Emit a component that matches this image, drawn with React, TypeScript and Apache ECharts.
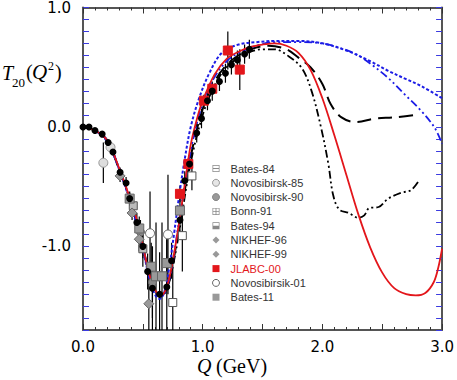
import React, { useEffect, useRef } from "react";
import * as echarts from "echarts";

// ---------- axis ticks ----------
const X_LABELS = [0, 1, 2, 3];
const Y_LABELS = [-1, 0, 1];

// ---------- theory curves [Q, T20] ----------
const CURVE_RED: [number, number][] = [
  [0, 0], [0.1, -0.03], [0.2, -0.11], [0.3, -0.34], [0.4, -0.62], [0.45, -0.78], [0.5, -0.99],
  [0.55, -1.22], [0.6, -1.36], [0.65, -1.41], [0.7, -1.34], [0.75, -1.12], [0.8, -0.82],
  [0.85, -0.48], [0.9, -0.15], [0.95, 0.06], [1.0, 0.22], [1.1, 0.44], [1.2, 0.57], [1.3, 0.63],
  [1.4, 0.67], [1.5, 0.69], [1.6, 0.7], [1.7, 0.68], [1.8, 0.62], [1.9, 0.48], [2.0, 0.24],
  [2.1, -0.07], [2.2, -0.4], [2.3, -0.73], [2.4, -1.01], [2.5, -1.22], [2.6, -1.35],
  [2.7, -1.4], [2.78, -1.41], [2.86, -1.39], [2.93, -1.3], [2.97, -1.17], [3.0, -1.02],
];
const CURVE_BLUE_DOT: [number, number][] = [
  [0, 0], [0.1, -0.03], [0.2, -0.12], [0.3, -0.35], [0.4, -0.65], [0.5, -1.02], [0.55, -1.25],
  [0.6, -1.4], [0.64, -1.44], [0.68, -1.38], [0.72, -1.18], [0.76, -0.9], [0.8, -0.6],
  [0.85, -0.27], [0.9, 0.0], [0.97, 0.24], [1.06, 0.46], [1.16, 0.62], [1.3, 0.69], [1.45, 0.71],
  [1.6, 0.72], [1.8, 0.72], [2.0, 0.7], [2.2, 0.64], [2.4, 0.55], [2.55, 0.47], [2.7, 0.4],
  [2.83, 0.34], [3.0, 0.24],
];
const CURVE_BLUE_DASHDOT: [number, number][] = [
  [0, 0], [0.1, -0.03], [0.2, -0.11], [0.3, -0.34], [0.4, -0.63], [0.5, -1.0], [0.55, -1.23],
  [0.6, -1.37], [0.65, -1.42], [0.7, -1.35], [0.75, -1.13], [0.8, -0.8], [0.9, -0.2],
  [1.0, 0.2], [1.1, 0.42], [1.2, 0.55], [1.3, 0.62], [1.45, 0.68], [1.6, 0.71], [1.8, 0.71],
  [2.0, 0.7], [2.15, 0.66], [2.28, 0.61], [2.4, 0.53], [2.55, 0.41], [2.69, 0.27],
  [2.83, 0.13], [2.94, -0.01], [3.0, -0.14],
];
const CURVE_BLACK_DASH: [number, number][] = [
  [0, 0], [0.1, -0.03], [0.2, -0.11], [0.3, -0.35], [0.4, -0.63], [0.5, -1.0], [0.55, -1.22],
  [0.6, -1.36], [0.65, -1.41], [0.7, -1.35], [0.75, -1.15], [0.8, -0.85], [0.9, -0.25],
  [1.0, 0.15], [1.1, 0.38], [1.2, 0.52], [1.3, 0.6], [1.4, 0.65], [1.55, 0.68], [1.7, 0.65],
  [1.8, 0.58], [1.9, 0.5], [2.0, 0.36], [2.07, 0.19], [2.16, 0.08], [2.28, 0.04], [2.44, 0.07],
  [2.6, 0.08], [2.78, 0.1],
];
const CURVE_BLACK_DASHDOT: [number, number][] = [
  [0, 0], [0.1, -0.03], [0.2, -0.11], [0.3, -0.35], [0.4, -0.64], [0.5, -1.01], [0.55, -1.23],
  [0.6, -1.37], [0.65, -1.42], [0.7, -1.36], [0.75, -1.17], [0.8, -0.9], [0.9, -0.3],
  [1.0, 0.1], [1.1, 0.35], [1.2, 0.5], [1.3, 0.58], [1.4, 0.63], [1.5, 0.65], [1.6, 0.65],
  [1.72, 0.59], [1.83, 0.49], [1.91, 0.3], [1.99, -0.01], [2.05, -0.31], [2.09, -0.57],
  [2.14, -0.69], [2.22, -0.72], [2.3, -0.76], [2.35, -0.74], [2.39, -0.68], [2.47, -0.67],
  [2.55, -0.6], [2.66, -0.55], [2.74, -0.53], [2.8, -0.46],
];

// ---------- data sets: Q, T20, error ----------
const FIT_Q = [0, 0.05, 0.1, 0.16, 0.21, 0.25, 0.31, 0.36, 0.39, 0.45, 0.5, 0.54, 0.58, 0.64, 0.7, 0.74, 0.81, 0.85, 0.89, 0.95, 0.99, 1.04, 1.08, 1.14, 1.19, 1.24, 1.29, 1.35, 1.39];
const FIT_T = [0, 0.0, -0.03, -0.06, -0.13, -0.21, -0.38, -0.47, -0.6, -0.8, -1.0, -1.21, -1.35, -1.4, -1.34, -1.12, -0.78, -0.45, -0.31, -0.05, 0.07, 0.22, 0.3, 0.38, 0.45, 0.52, 0.56, 0.61, 0.65];
const FIT_E = [0.01, 0.01, 0.01, 0.02, 0.02, 0.03, 0.04, 0.05, 0.06, 0.08, 0.1, 0.15, 0.35, 0.35, 0.4, 0.15, 0.1, 0.08, 0.06, 0.08, 0.08, 0.08, 0.08, 0.08, 0.08, 0.08, 0.08, 0.08, 0.08];

const B84_Q = [0.75, 0.83];
const B84_T = [-1.47, -0.91];
const B84_E = [0.35, 0.3];

const N85_Q = [0.17, 0.23];
const N85_T = [-0.3, -0.17];
const N85_E = [0.17, 0.04];

const N90_Q = [0.48, 0.58];
const N90_T = [-0.88, -1.3];
const N90_E = [0.1, 0.3];

const BONN_Q = [0.42, 0.5];
const BONN_T = [-0.66, -1.02];
const BONN_E = [0.08, 0.15];

const B94_Q = [0.91];
const B94_T = [-0.41];
const B94_E = [0.12];

const N96_Q = [0.31, 0.41];
const N96_T = [-0.41, -0.72];
const N96_E = [0.05, 0.06];

const N99_Q = [0.47, 0.55];
const N99_T = [-0.94, -1.48];
const N99_E = [0.1, 0.3];

const JLAB_Q = [0.81, 0.88, 1.01, 1.08, 1.21, 1.31];
const JLAB_T = [-0.56, -0.31, 0.22, 0.32, 0.64, 0.48];
const JLAB_E = [0.07, 0.05, 0.05, 0.05, 0.16, 0.17];

const N01_Q = [0.56, 0.71];
const N01_T = [-0.89, -0.9];
const N01_E = [0.35, 0.5];

const B11_Q = [0.39, 0.47, 0.57, 0.61, 0.66, 0.7, 0.81];
const B11_T = [-0.6, -0.85, -1.17, -1.25, -1.25, -1.14, -0.7];
const B11_E = [0.05, 0.1, 0.2, 0.45, 0.45, 0.2, 0.1];

const X_MIN = 0, X_MAX = 3, Y_MIN = -1.7, Y_MAX = 1.0;

const pts = (q: number[], t: number[]) => q.map((v, i) => [v, t[i]]);

export default function App() {
  const ref = useRef<HTMLDivElement>(null);
  useEffect(() => {
    document.body.style.margin = "0";
    const chart = echarts.init(ref.current!, undefined, { renderer: "svg" });

    const sets = [
      { name: "Bates-84", q: B84_Q, t: B84_T, e: B84_E, symbol: "rect", size: 8, color: "#fff", border: "#555" },
      { name: "Novosibirsk-85", q: N85_Q, t: N85_T, e: N85_E, symbol: "circle", size: 9, color: "#ddd", border: "#999" },
      { name: "Novosibirsk-90", q: N90_Q, t: N90_T, e: N90_E, symbol: "circle", size: 8, color: "#888", border: "#666" },
      { name: "Bonn-91", q: BONN_Q, t: BONN_T, e: BONN_E, symbol: "rect", size: 8, color: "#bbb", border: "#555" },
      { name: "Bates-94", q: B94_Q, t: B94_T, e: B94_E, symbol: "rect", size: 8, color: "#fff", border: "#555" },
      { name: "NIKHEF-96", q: N96_Q, t: N96_T, e: N96_E, symbol: "diamond", size: 10, color: "#999", border: "#666" },
      { name: "NIKHEF-99", q: N99_Q, t: N99_T, e: N99_E, symbol: "diamond", size: 10, color: "#999", border: "#666" },
      { name: "JLABC-00", q: JLAB_Q, t: JLAB_T, e: JLAB_E, symbol: "rect", size: 9, color: "#e3161b", border: "#e3161b" },
      { name: "Novosibirsik-01", q: N01_Q, t: N01_T, e: N01_E, symbol: "circle", size: 9, color: "#fff", border: "#666" },
      { name: "Bates-11", q: B11_Q, t: B11_T, e: B11_E, symbol: "rect", size: 9, color: "#999", border: "#666" },
    ];

    const clampY = (v: number) => Math.max(Y_MIN, Math.min(Y_MAX, v));
    const errData: number[][] = [];
    const addErr = (q: number[], t: number[], e: number[]) =>
      q.forEach((v, i) => errData.push([v, clampY(t[i] - e[i]), clampY(t[i] + e[i])]));
    addErr(FIT_Q, FIT_T, FIT_E);
    sets.forEach((s) => addErr(s.q, s.t, s.e));

    const curve = (data: [number, number][], color: string, type: any, width: number) => ({
      type: "line",
      data,
      showSymbol: false,
      smooth: 0.35,
      z: 2,
      silent: true,
      lineStyle: { color, width, type },
    });

    const iconOutline = "M0,0H10V10H0Z M1,1V9H9V1Z";
    const legendData = [
      { name: "Bates-84", icon: "path://" + iconOutline + " M1,4.2H9V5.8H1Z", itemStyle: { color: "#888", borderWidth: 0 } },
      { name: "Novosibirsk-85", icon: "circle", itemStyle: { color: "#e6e6e6", borderColor: "#999", borderWidth: 1 } },
      { name: "Novosibirsk-90", icon: "circle", itemStyle: { color: "#999", borderColor: "#888", borderWidth: 1 } },
      { name: "Bonn-91", icon: "path://" + iconOutline + " M1,4.4H9V5.6H1Z M4.4,1H5.6V9H4.4Z", itemStyle: { color: "#888", borderWidth: 0 } },
      { name: "Bates-94", icon: "path://" + iconOutline + " M1,5H9V9H1Z", itemStyle: { color: "#888", borderWidth: 0 } },
      { name: "NIKHEF-96", icon: "diamond", itemStyle: { color: "#999", borderWidth: 0 } },
      { name: "NIKHEF-99", icon: "diamond", itemStyle: { color: "#999", borderWidth: 0 } },
      { name: "JLABC-00", icon: "rect", itemStyle: { color: "#e3161b", borderWidth: 0 }, textStyle: { color: "#e3161b" } },
      { name: "Novosibirsik-01", icon: "circle", itemStyle: { color: "#fff", borderColor: "#666", borderWidth: 1 } },
      { name: "Bates-11", icon: "rect", itemStyle: { color: "#999", borderWidth: 0 } },
    ];

    const serif = "Liberation Serif";
    const tickFont = "DejaVu Sans";

    const xAxisBase = {
      type: "value", min: X_MIN, max: X_MAX, interval: 0.5,
      axisLine: { onZero: false, lineStyle: { color: "#555", width: 2 } },
      axisTick: { inside: true, length: 6, lineStyle: { color: "#333", width: 1 } },
      minorTick: { show: true, splitNumber: 5, length: 3, lineStyle: { color: "#333", width: 1 } },
      splitLine: { show: false },
    };
    const yAxisBase = {
      type: "value", min: Y_MIN, max: Y_MAX, interval: 0.1,
      axisLine: { onZero: false, lineStyle: { color: "#555", width: 2 } },
      axisTick: { inside: true, length: 6, lineStyle: { color: "#3b3be0", width: 1 } },
      splitLine: { show: false },
    };

    chart.setOption({
      animation: false,
      grid: { left: 83, right: 13, top: 5, bottom: 50 },
      legend: {
        data: legendData,
        orient: "vertical",
        left: 207,
        top: 158,
        itemWidth: 7,
        itemHeight: 7,
        itemGap: 3.3,
        formatter: (n: string) => "  " + n,
        textStyle: { fontFamily: "Liberation Sans", fontSize: 11, color: "#333" },
        selectedMode: false,
      },
      xAxis: [
        {
          ...xAxisBase,
          axisLabel: {
            margin: 9, fontFamily: tickFont, fontSize: 15, color: "#000",
            formatter: (v: number) => (X_LABELS.some((l) => Math.abs(l - v) < 1e-6) ? Math.round(v).toFixed(1) : ""),
          },
        },
        { ...xAxisBase, position: "top", axisLabel: { show: false } },
      ],
      yAxis: [
        {
          ...yAxisBase,
          axisLabel: {
            margin: 12, fontFamily: tickFont, fontSize: 15, color: "#000",
            formatter: (v: number) => (Y_LABELS.some((l) => Math.abs(l - v) < 1e-6) ? Math.round(v).toFixed(1) : ""),
          },
        },
        { ...yAxisBase, position: "right", axisLabel: { show: false } },
      ],
      series: [
        {
          type: "custom",
          silent: true,
          z: 1,
          clip: true,
          data: errData,
          encode: { x: 0, y: [1, 2] },
          renderItem: (_p: any, api: any) => {
            const a = api.coord([api.value(0), api.value(1)]);
            const b = api.coord([api.value(0), api.value(2)]);
            return {
              type: "line",
              shape: { x1: a[0], y1: a[1], x2: b[0], y2: b[1] },
              style: { stroke: "#000", lineWidth: 1.2 },
            };
          },
        },
        ...sets.map((s) => ({
          name: s.name,
          type: "scatter",
          data: pts(s.q, s.t),
          symbol: s.symbol,
          symbolSize: s.size,
          z: 3,
          itemStyle: { color: s.color, borderColor: s.border, borderWidth: 1, opacity: 1 },
        })),
        {
          name: "fit",
          type: "scatter",
          data: pts(FIT_Q, FIT_T),
          symbol: "circle",
          symbolSize: 7,
          z: 4,
          itemStyle: { color: "#000", opacity: 1 },
        },
        curve(CURVE_BLACK_DASH, "#000", [14, 7], 2),
        curve(CURVE_BLACK_DASHDOT, "#000", [8, 3, 2, 3, 2, 3], 1.8),
        curve(CURVE_BLUE_DASHDOT, "#1c1ce6", [8, 3, 2, 3, 2, 3], 1.8),
        curve(CURVE_BLUE_DOT, "#1c1ce6", [3, 2], 2),
        curve(CURVE_RED, "#e3161b", "solid", 1.8),
      ],
      graphic: [
        { type: "text", left: 2, top: 63, style: { text: "T", font: `italic 20px "${serif}"`, fill: "#000" } },
        { type: "text", left: 12, top: 76, style: { text: "20", font: `13px "${serif}"`, fill: "#000" } },
        { type: "text", left: 26, top: 62, style: { text: "(", font: `20px "${serif}"`, fill: "#000" } },
        { type: "text", left: 32, top: 61, style: { text: "Q", font: `italic 21px "${serif}"`, fill: "#000" } },
        { type: "text", left: 48, top: 60, style: { text: "2", font: `12px "${serif}"`, fill: "#000" } },
        { type: "text", left: 55, top: 62, style: { text: ")", font: `20px "${serif}"`, fill: "#000" } },
        { type: "text", left: 197, top: 356, style: { text: "Q", font: `italic 20px "${serif}"`, fill: "#000" } },
        { type: "text", left: 216, top: 356, style: { text: "(GeV)", font: `20px "${serif}"`, fill: "#000" } },
      ],
    });
    return () => chart.dispose();
  }, []);
  return <div ref={ref} style={{ width: 457, height: 380 }} />;
}
